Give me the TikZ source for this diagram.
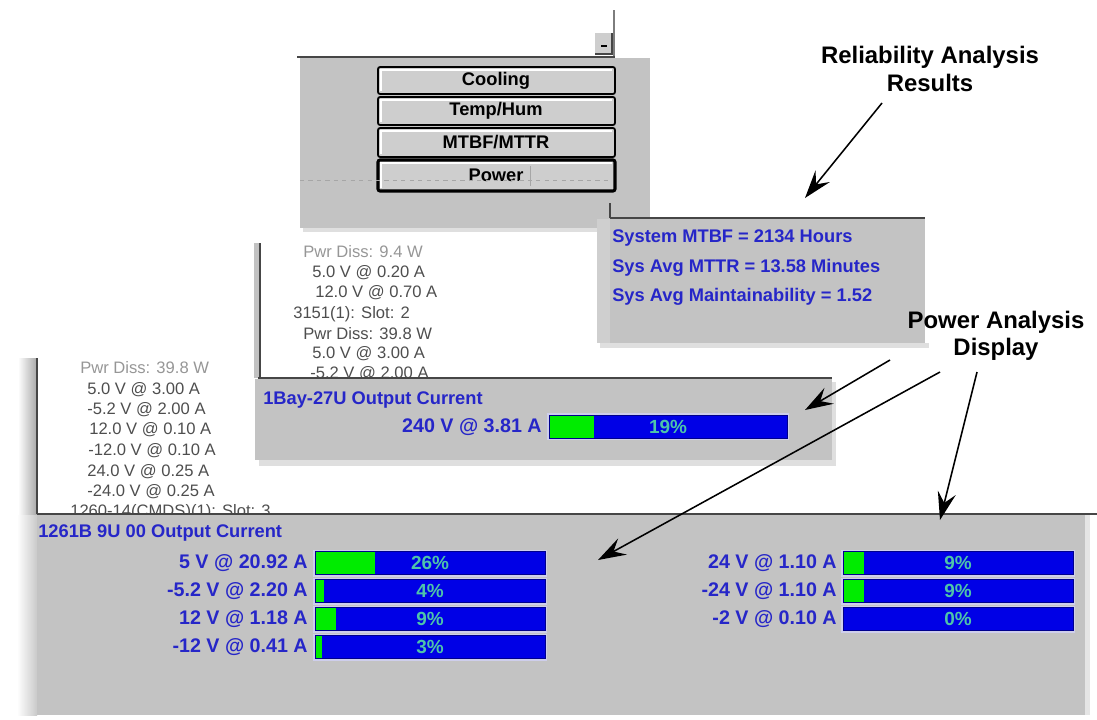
\documentclass[tikz,border=0pt]{standalone}
\usepackage{fontspec}
\setmainfont{Liberation Sans}
\usetikzlibrary{arrows.meta}

\definecolor{panelgray}{RGB}{195,195,195}
\definecolor{buttongray}{RGB}{206,206,206}
\definecolor{shadowgray}{RGB}{168,168,168}
\definecolor{rimgray}{RGB}{70,70,70}
\definecolor{screenblue}{RGB}{38,38,200}
\definecolor{barblue}{RGB}{0,0,230}
\definecolor{bargreen}{RGB}{0,236,0}
\definecolor{barframe}{RGB}{206,206,236}
\definecolor{pctgreen}{RGB}{78,196,170}
\definecolor{listtext}{RGB}{78,78,78}
\definecolor{listdim}{RGB}{150,150,150}

\tikzset{
  pointer/.style={-{Stealth[length=7mm,width=4.6mm,inset=2.6mm]}, line width=1.1pt},
  calltext/.style={font=\fontsize{17}{19.5}\selectfont\bfseries, align=center, inner sep=0pt},
  scrtext/.style={text=screenblue, font=\fontsize{13}{15}\selectfont\bfseries, inner sep=0pt},
  btntext/.style={font=\fontsize{13}{15}\selectfont\bfseries, inner sep=0pt},
  listline/.style={text=listtext, font=\fontsize{11.8}{13}\selectfont, inner sep=0pt, anchor=west},
  voltage/.style={scrtext, font=\fontsize{14}{16}\selectfont\bfseries, anchor=east},
  pctlabel/.style={text=pctgreen, font=\fontsize{13.5}{15}\selectfont\bfseries, inner sep=0pt},
  rim/.style={draw=rimgray, line width=1.1pt},
  barrim/.style={draw=blue!55!black, line width=0.4pt},
}

\begin{document}
\begin{tikzpicture}[x=0.025cm, y=-0.025cm]
    \useasboundingbox (0,0) rectangle (1097,719);

    % Selector list with its drop-down button
    \draw[rimgray!70, line width=1pt] (614,10) -- (614,57);
    \fill[buttongray] (595,33) rectangle (612,54);
    \draw[rimgray, line width=0.8pt] (595,54) -- (612,54) -- (612,33);
    \draw[line width=1.5pt] (601,46) -- (607,46);

    % Button panel
    \fill[gray!25] (303,228) rectangle (650,232);
    \fill[panelgray] (300,58) rectangle (650,228);
    \draw[rim] (297,57) -- (615,57);
    \foreach \b/\t/\yt/\yb in {cool/Cooling/67/94, temp/{Temp/Hum}/97/125, mtbf/{MTBF/MTTR}/128/157, pwr/Power/160/191} {
        \draw[fill=buttongray, line width=1.3pt, rounded corners=1.5pt] (378,\yt) rectangle (615,\yb);
        \draw[white, line width=0.8pt] (381,\yb-3) -- (381,\yt+3) -- (612,\yt+3);
        \node[btntext] (btn\b) at (496,\yt/2+\yb/2) {\t};
    }
    \draw[line width=2.2pt, rounded corners=1.5pt] (378,160) rectangle (615,191);
    \draw[gray!70, dashed, line width=0.5pt] (300,180) -- (612,180);
    \draw[gray!70, line width=0.6pt] (530,166) -- (530,186);

    % Card list of the 1Bay-27U
    \fill[shadowgray!70] (254,243) rectangle (260,378);
    \draw[rim] (260,243) -- (260,378);
    \begin{scope}
        \clip (261,243) rectangle (598,377);
        \node[listline, text=listdim] (ma) at (303,252) {Pwr Diss: 9.4 W};
        \node[listline] (mb) at (312,273) {5.0 V @ 0.20 A};
        \node[listline] (mc) at (315,293) {12.0 V @ 0.70 A};
        \node[listline] (md) at (293,314) {3151(1): Slot: 2};
        \node[listline] (me) at (303,334) {Pwr Diss: 39.8 W};
        \node[listline] (mf) at (312,354) {5.0 V @ 3.00 A};
        \node[listline] (mg) at (310,374) {-5.2 V @ 2.00 A};
    \end{scope}

    % Reliability results
    \draw[rim] (610,203) -- (610,218);
    \fill[gray!25] (600,343) rectangle (929,348);
    \fill[panelgray!80] (597,219) rectangle (610,343);
    \fill[panelgray] (610,219) rectangle (925,343);
    \draw[rim] (610,218) -- (925,218);
    \node[scrtext, anchor=west] (mtbf) at (612,238) {System MTBF = 2134 Hours};
    \node[scrtext, anchor=west] (mttr) at (612,268) {Sys Avg MTTR = 13.58 Minutes};
    \node[scrtext, anchor=west] (maint) at (612,297) {Sys Avg Maintainability = 1.52};

    % Card list of the 1261B
    \shade[left color=white, right color=shadowgray] (18,358) rectangle (37,514);
    \draw[rim] (37,358) -- (37,514);
    \begin{scope}
        \clip (38,358) rectangle (300,513);
        \node[listline, text=listdim] (la) at (80,368) {Pwr Diss: 39.8 W};
        \node[listline] (lb) at (87,390) {5.0 V @ 3.00 A};
        \node[listline] (lc) at (87,410) {-5.2 V @ 2.00 A};
        \node[listline] (ld) at (89,430) {12.0 V @ 0.10 A};
        \node[listline] (le) at (88,451) {-12.0 V @ 0.10 A};
        \node[listline] (lf) at (87,472) {24.0 V @ 0.25 A};
        \node[listline] (lg) at (87,492) {-24.0 V @ 0.25 A};
        \node[listline] (lh) at (70,512) {1260-14(CMDS)(1): Slot: 3};
    \end{scope}

    % 1Bay-27U output current
    \fill[gray!25] (259,460) rectangle (836,466);
    \fill[gray!25] (832,382) rectangle (836,466);
    \fill[panelgray] (255,379) rectangle (832,460);
    \draw[rim] (258,378) -- (832,378);
    \node[scrtext, anchor=west] (baytitle) at (263,400) {1Bay-27U Output Current};
    \fill[barframe] (547,413) rectangle (789,440);
    \fill[barblue] (549,415) rectangle (787,438);
    \fill[bargreen] (549,415) rectangle (549+2.38*19,438);
    \draw[barrim] (549,415) rectangle (787,438);
    \node[voltage] (baynum) at (542,427) {240 V @ 3.81 A};
    \node[pctlabel] (baypct) at (668,427) {19\%};

    % 1261B 9U 00 output current
    \shade[left color=white, right color=panelgray!90] (17,515) rectangle (37,715);
    \fill[gray!20] (1085,515) rectangle (1090,715);
    \fill[panelgray] (37,515) rectangle (1085,715);
    \draw[rim] (37,514) -- (1097,514);
    \node[scrtext, anchor=west] (bigtitle) at (38,533) {1261B 9U 00 Output Current};
    \foreach \n/\v/\p/\yc in {a/5 V @ 20.92 A/26/563, b/-5.2 V @ 2.20 A/4/591, c/12 V @ 1.18 A/9/619, d/-12 V @ 0.41 A/3/647} {
        \fill[barframe] (313,\yc-13.5) rectangle (547,\yc+13.5);
        \fill[barblue] (315,\yc-11.5) rectangle (545,\yc+11.5);
        \fill[bargreen] (315,\yc-11.5) rectangle (315+2.3*\p,\yc+11.5);
        \draw[barrim] (315,\yc-11.5) rectangle (545,\yc+11.5);
        \node[voltage] (volt\n) at (308,\yc) {\v};
        \node[pctlabel] (pct\n) at (430,\yc) {\p\%};
    }
    \foreach \n/\v/\p/\yc in {e/24 V @ 1.10 A/9/563, f/-24 V @ 1.10 A/9/591, g/-2 V @ 0.10 A/0/619} {
        \fill[barframe] (841,\yc-13.5) rectangle (1075,\yc+13.5);
        \fill[barblue] (843,\yc-11.5) rectangle (1073,\yc+11.5);
        \fill[bargreen] (843,\yc-11.5) rectangle (843+2.3*\p,\yc+11.5);
        \draw[barrim] (843,\yc-11.5) rectangle (1073,\yc+11.5);
        \node[voltage] (volt\n) at (837,\yc) {\v};
        \node[pctlabel] (pct\n) at (958,\yc) {\p\%};
    }

    % Callouts
    \node[calltext] (rel) at (930,69) {Reliability Analysis\\Results};
    \node[calltext] (pwa) at (996,336) {Power Analysis\\Display};
    \coordinate (relTail) at (882,103);
    \coordinate (relTip) at (805,198);
    \coordinate (bayTail) at (890,360);
    \coordinate (bayTip) at (805,410);
    \coordinate (leftTail) at (940,372);
    \coordinate (leftTip) at (598,560);
    \coordinate (rightTail) at (977,372);
    \coordinate (rightTip) at (940,520);
    \draw[pointer] (relTail) -- (relTip);
    \draw[pointer] (bayTail) -- (bayTip);
    \draw[pointer] (leftTail) -- (leftTip);
    \draw[pointer] (rightTail) -- (rightTip);
\end{tikzpicture}
\end{document}
